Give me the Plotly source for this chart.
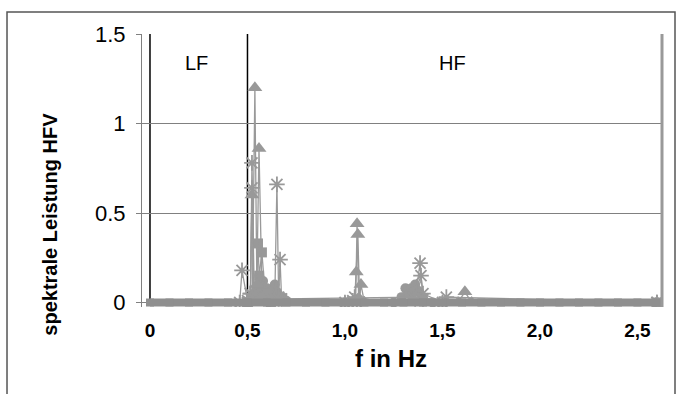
import plotly.graph_objects as go

# ---------------- data ----------------
# frequency bins of the zero baseline (Hz) and their power
base_f = [0.0, 0.1, 0.2, 0.3, 0.4, 0.5, 0.6, 0.7, 0.8, 0.9, 1.0, 1.1, 1.2, 1.3,
          1.4, 1.5, 1.6, 1.7, 1.8, 1.9, 2.0, 2.1, 2.2, 2.3, 2.4, 2.5, 2.6]
base_p = [0, 0, 0, 0, 0, 0, 0, 0, 0, 0, 0, 0, 0, 0,
          0, 0, 0, 0, 0, 0, 0, 0, 0, 0, 0, 0, 0]

tri1_f = [0.50, 0.525, 0.538, 0.548, 0.559, 0.575, 0.62, 1.00, 1.055, 1.062, 1.07, 1.10, 1.58, 1.615, 1.65, 2.60]
tri1_p = [0, 0.01, 1.20, 0.10, 0.86, 0.03, 0.01, 0, 0.01, 0.44, 0.02, 0, 0, 0.06, 0, 0]

tri2_f = [0.50, 0.515, 0.523, 0.532, 0.56, 1.00, 1.05, 1.058, 1.066, 1.075, 1.082, 1.10, 2.60]
tri2_p = [0, 0.02, 0.60, 0.05, 0.02, 0, 0.01, 0.17, 0.38, 0.02, 0.10, 0, 0]

star1_f = [0.46, 0.472, 0.50, 0.515, 0.523, 0.535, 0.64, 0.651, 0.66, 1.00, 1.04, 1.05, 1.06, 1.36, 1.385, 1.40, 2.60]
star1_p = [0, 0.18, 0.01, 0.05, 0.78, 0.03, 0.02, 0.66, 0.02, 0, 0.01, 0.03, 0, 0.02, 0.22, 0.02, 0]

star2_f = [0.50, 0.515, 0.523, 0.532, 0.66, 0.667, 0.675, 1.35, 1.39, 1.40, 1.50, 1.52, 2.60]
star2_p = [0, 0.05, 0.64, 0.03, 0.03, 0.24, 0.02, 0.03, 0.15, 0.05, 0, 0.03, 0]

sq_f = [0.50, 0.545, 0.554, 0.56, 0.574, 0.59, 0.62, 2.60]
sq_p = [0, 0.05, 0.33, 0.15, 0.28, 0.05, 0, 0]

circ_f = [0.50, 0.53, 0.55, 0.56, 0.57, 0.58, 0.59, 0.60, 0.61, 0.62, 0.63, 0.64, 0.65, 0.66, 0.68, 0.70,
          1.25, 1.29, 1.31, 1.32, 1.33, 1.34, 1.35, 1.36, 1.37, 1.38, 1.40, 1.45, 2.60]
circ_p = [0, 0.04, 0.08, 0.15, 0.10, 0.12, 0.06, 0.08, 0.03, 0.06, 0.05, 0.10, 0.06, 0.02, 0.03, 0.01,
          0, 0.03, 0.08, 0.06, 0.05, 0.08, 0.06, 0.10, 0.07, 0.06, 0.03, 0, 0]

x_tickvals = [0, 0.5, 1.0, 1.5, 2.0, 2.5]
x_ticktext = ["0", "0,5", "1,0", "1,5", "2,0", "2,5"]
y_tickvals = [0, 0.5, 1, 1.5]
y_ticktext = ["0", "0.5", "1", "1.5"]
band_limits = [0, 0.5]          # LF / HF boundary lines

GREY = "#999999"
FONT = "Liberation Sans, Arial, sans-serif"

fig = go.Figure()

def add_series(f, p, symbol, size, open_=False):
    marker = dict(symbol=symbol, size=size, color=GREY)
    if open_:
        marker["line"] = dict(color=GREY, width=1.8)
    fig.add_trace(go.Scatter(x=f, y=p, mode="lines+markers",
                             line=dict(color=GREY, width=1.3),
                             marker=marker, showlegend=False))

add_series(circ_f, circ_p, "circle", 10)
add_series(sq_f, sq_p, "square", 10)
add_series(star2_f, star2_p, "asterisk-open", 13, True)
add_series(star1_f, star1_p, "asterisk-open", 13, True)
add_series(tri2_f, tri2_p, "triangle-up", 13)
add_series(tri1_f, tri1_p, "triangle-up", 13)

# thick zero band (all series sit on zero here)
fig.add_trace(go.Scatter(x=base_f, y=base_p, mode="lines+markers",
                         line=dict(color="#8f8f8f", width=8),
                         marker=dict(symbol="square", size=8, color="#8f8f8f"),
                         showlegend=False))

shapes = []
for b in band_limits:
    shapes.append(dict(type="line", xref="x", yref="y", x0=b, x1=b, y0=0, y1=1.5,
                       layer="below", line=dict(color="black", width=1.5)))
# right plot border
shapes.append(dict(type="line", xref="paper", yref="paper", x0=1, x1=1, y0=0, y1=1,
                   line=dict(color=GREY, width=3)))
# outer chart frame
shapes.append(dict(type="rect", xref="paper", yref="paper", x0=-0.2596, x1=1.025,
                   y0=-0.35, y1=1.081, fillcolor="rgba(0,0,0,0)",
                   line=dict(color="#555555", width=1.5)))

annotations = [
    dict(text="LF", x=0.236, y=1.337, xref="x", yref="y", showarrow=False,
         font=dict(family=FONT, size=20, color="black")),
    dict(text="HF", x=1.549, y=1.337, xref="x", yref="y", showarrow=False,
         font=dict(family=FONT, size=20, color="black")),
    dict(text="spektrale Leistung HFV", x=-0.177, y=0.305, xref="paper", yref="paper",
         textangle=-90, showarrow=False, xanchor="center", yanchor="middle",
         font=dict(family=FONT, size=20, color="black", weight="bold")),
    dict(text="f in Hz", x=0.479, y=-0.19, xref="paper", yref="paper",
         showarrow=False, xanchor="center", yanchor="middle",
         font=dict(family=FONT, size=24, color="black", weight="bold")),
]

fig.update_layout(
    width=676, height=394,
    margin=dict(l=142, r=14, t=34, b=87),
    paper_bgcolor="white", plot_bgcolor="white",
    shapes=shapes, annotations=annotations,
    xaxis=dict(range=[-0.041, 2.626], tickvals=x_tickvals, ticktext=x_ticktext,
               showgrid=False, zeroline=False, showline=False,
               ticks="outside", ticklen=6, tickcolor="rgba(0,0,0,0)",
               tickfont=dict(family=FONT, size=19, color="black", weight="bold")),
    yaxis=dict(range=[-0.025, 1.5], tickvals=y_tickvals, ticktext=y_ticktext,
               showgrid=True, gridcolor="#808080", gridwidth=1, zeroline=False,
               showline=True, linecolor="#808080", linewidth=1,
               ticks="outside", ticklen=5, tickcolor="#808080",
               ticklabelstandoff=6,
               tickfont=dict(family=FONT, size=22, color="black")),
)

fig.write_html("out.html")
